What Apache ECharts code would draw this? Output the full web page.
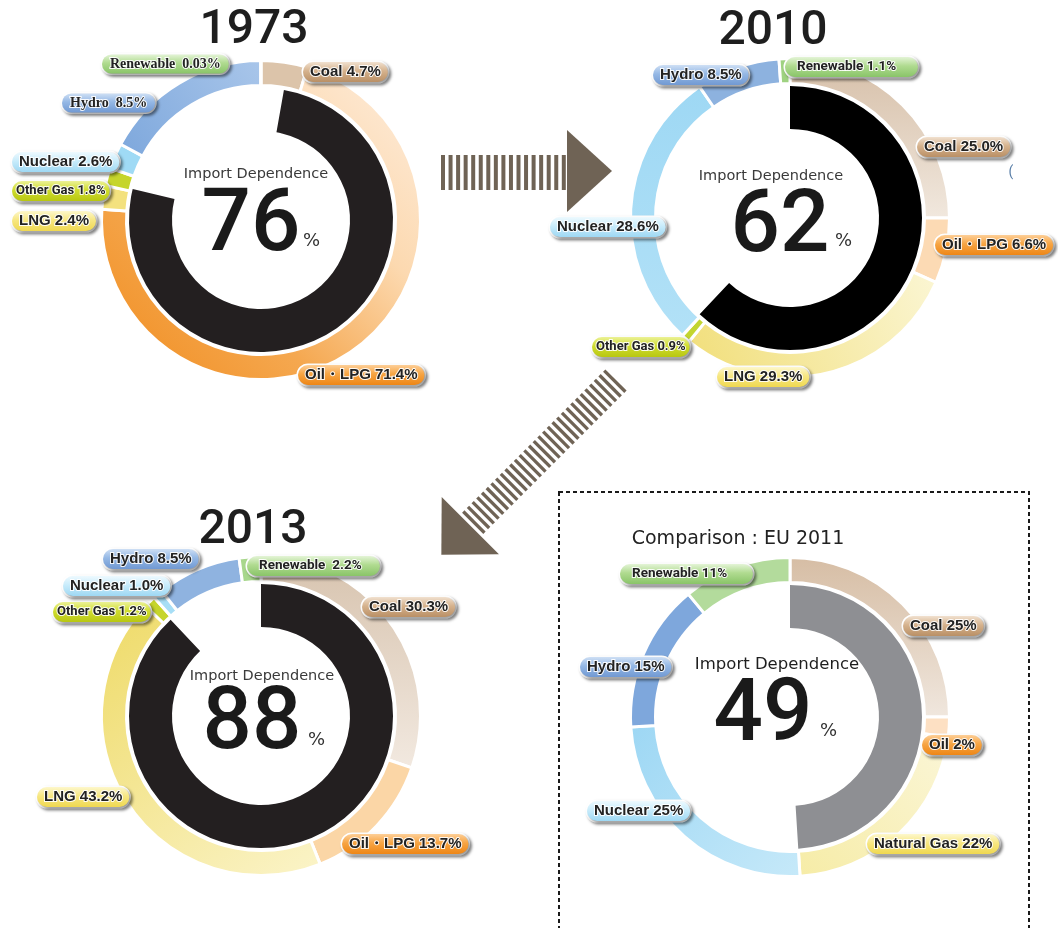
<!DOCTYPE html>
<html><head><meta charset="utf-8">
<script src="https://cdn.jsdelivr.net/npm/echarts@6/dist/echarts.min.js"></script>
<style>html,body{margin:0;padding:0;background:#fff}#c{width:1058px;height:928px}</style>
</head><body><div id="c"></div>
<script>
// ---------------- data ----------------
const categories = ['Coal', 'Oil・LPG', 'LNG', 'Other Gas', 'Nuclear', 'Hydro', 'Renewable'];
const euCategories = ['Coal', 'Oil', 'Natural Gas', 'Nuclear', 'Hydro', 'Renewable'];
const yearTitles = ['1973', '2010', '2013'];
const euTitle = 'Comparison : EU 2011';
const centerCaption = 'Import Dependence';
const importDependence = [76, 62, 88];
const euImportDependence = 49;
// printed shares (%)
const share1973 = [4.7, 71.4, 2.4, 1.8, 2.6, 8.5, 0.03];
const share2010 = [25.0, 6.6, 29.3, 0.9, 28.6, 8.5, 1.1];
const share2013 = [30.3, 13.7, 43.2, 1.2, 1.0, 8.5, 2.2];
const shareEU = [25, 2, 22, 25, 15, 11];
// arc sizes as drawn in the picture (the 1973 hydro arc is drawn about twice its printed share)
const arc1973 = [4.7, 71.4, 2.4, 1.8, 2.6, 17.1, 0.03];

// ---------------- styling ----------------
function lg(x, y, x2, y2, stops) {
  return {type: 'linear', x, y, x2, y2, colorStops: stops.map(s => ({offset: s[0], color: s[1]}))};
}
const pill = {
  coal: ['#f5e8da', '#d6b38e', '#b68b60'],
  oil: ['#fed6a6', '#f7a544', '#ec8210'],
  lng: ['#fefad8', '#f7e783', '#eed64a'],
  gas: ['#f0f5a8', '#d0dd31', '#b5c40c'],
  nuc: ['#f4fcff', '#c9ecfb', '#98d5f2'],
  hyd: ['#d8e6f7', '#95b8e5', '#6c95d0'],
  ren: ['#ecf8e2', '#b0db90', '#84c163']
};
const pillKeys = ['coal', 'oil', 'lng', 'gas', 'nuc', 'hyd', 'ren'];
const pillKeysEU = ['coal', 'oil', 'lng', 'nuc', 'hyd', 'ren'];

const ringColors1973 = [
  '#dcc4aa',
  lg(0, 1, 1, 0, [[0, '#f08b1c'], [0.35, '#f5a850'], [0.65, '#fcd9b0'], [1, '#feeedf']]),
  '#f3e17e', '#c6d52c', '#9fdaf5',
  lg(0, 1, 1, 0, [[0, '#7da7dc'], [1, '#a9c6ea']]),
  '#a5d488'
];
const ringColors2010 = [
  lg(0, 0, 0, 1, [[0, '#d6bfa8'], [1, '#f1e8de']]),
  '#fcdab4',
  lg(1, 0, 0, 1, [[0, '#fbf6d4'], [1, '#f1de78']]),
  '#c3d530',
  lg(0, 0, 0, 1, [[0, '#9ed8f4'], [1, '#b2e1f7']]),
  '#8db2df', '#9fd281'
];
const ringColors2013 = [
  lg(0, 0, 0, 1, [[0, '#d7c3ae'], [1, '#f2e9e0']]),
  '#fbd6a6',
  lg(0, 0, 1, 1, [[0, '#eeda66'], [1, '#fbf4c9']]),
  '#c6d52c', '#a7def6', '#8fb3e0', '#a8d78c'
];
const ringColorsEU = [
  lg(0, 0, 0, 1, [[0, '#d6bda4'], [1, '#f0e7de']]),
  '#fde0c3',
  lg(1, 0, 0, 1, [[0, '#fbf6d8'], [1, '#f6eca6']]),
  lg(0, 0, 1, 1, [[0, '#9dd7f4'], [1, '#c6e9f9']]),
  '#7ea7dc', '#b3db9c'
];

// label anchor (left edge, vertical middle) of each pill
const labelPos = {
  '1973': [[303, 72], [298, 375], [12, 221], [12, 191], [12, 162], [62, 103], [102, 64]],
  '2010': [[917, 147], [935, 245], [717, 377], [592, 347], [550, 227], [653, 75], [785, 67]],
  '2013': [[362, 607], [342, 844], [37, 797], [53, 612], [63, 586], [103, 559], [247, 566]],
  'EU':   [[903, 626], [922, 745], [867, 844], [587, 811], [580, 667], [620, 574]]
};
const SANS = "'Liberation Sans', Arial, sans-serif";
const SERIF = "'Liberation Serif', 'DejaVu Serif', serif";
// label variants: S = regular sans, N = narrow, W = wide narrow pill (renewable), F = serif
const variants = {
  S: {fontFamily: SANS, fontSize: 15, padding: [3, 7, 2, 7]},
  N: {fontFamily: "Roboto, sans-serif", fontSize: 13, padding: [4, 4, 3, 4]},
  W: {fontFamily: "Roboto, sans-serif", fontSize: 13.5, padding: [3, 7, 3, 12], width: 114},
  F: {fontFamily: SERIF, fontSize: 14, padding: [3, 8, 2, 8]}
};

function fmt(v, eu) {
  if (eu) return v + '%';
  return (v < 0.1 ? v.toFixed(2) : v.toFixed(1)) + '%';
}

function ring(key, center, cats, arc, shares, colors, keys, eu, kinds, gaps) {
  const pos = labelPos[key];
  return {
    type: 'pie', center, radius: [134.5, 159.5], startAngle: 90, clockwise: true,
    avoidLabelOverlap: false, silent: true, animation: false, emphasis: {disabled: true},
    itemStyle: {borderColor: '#fff', borderWidth: 3},
    labelLine: {show: false},
    labelLayout: p => ({x: pos[p.dataIndex][0], y: pos[p.dataIndex][1], align: 'left', verticalAlign: 'middle'}),
    data: cats.map((name, i) => {
      const c = pill[keys[i]];
      const v = variants[kinds[i]];
      return {
        name, value: arc[i],
        itemStyle: {color: colors[i]},
        label: Object.assign({
          show: true, position: 'outside',
          formatter: name + ((gaps && gaps[i]) ? '\u2002' : ' ') + fmt(shares[i], eu),
          fontWeight: 'bold', color: '#222',
          textBorderColor: 'rgba(255,255,255,0.9)', textBorderWidth: 2,
          backgroundColor: lg(0, 0, 0, 1, [[0, c[0]], [0.45, c[1]], [1, c[2]]]),
          borderColor: '#fff', borderWidth: 1.5, borderRadius: 11,
          shadowColor: 'rgba(0,0,0,0.4)', shadowBlur: 3, shadowOffsetX: 2, shadowOffsetY: 2
        }, v)
      };
    })
  };
}
function core(center, dep, color, startAngle) {
  return {
    type: 'pie', center, radius: [89, 132], startAngle, clockwise: true,
    silent: true, animation: false, emphasis: {disabled: true},
    label: {show: false}, labelLine: {show: false},
    data: [{value: dep, itemStyle: {color}}, {value: 100 - dep, itemStyle: {color: 'rgba(0,0,0,0)'}}]
  };
}

const C1973 = [261, 220], C2010 = [790, 218], C2013 = [261, 716], CEU = [790, 717];
const series = [
  ring('1973', C1973, categories, arc1973, share1973, ringColors1973, pillKeys, false,
       ['S', 'S', 'S', 'N', 'S', 'F', 'F'], [0, 0, 0, 0, 0, 1, 1]),
  core(C1973, importDependence[0], '#231f20', 80),
  ring('2010', C2010, categories, share2010, share2010, ringColors2010, pillKeys, false,
       ['S', 'S', 'S', 'N', 'S', 'S', 'W']),
  core(C2010, importDependence[1], '#000000', 90),
  ring('2013', C2013, categories, share2013, share2013, ringColors2013, pillKeys, false,
       ['S', 'S', 'S', 'N', 'S', 'S', 'W'], [0, 0, 0, 0, 0, 0, 1]),
  core(C2013, importDependence[2], '#231f20', 90),
  ring('EU', CEU, euCategories, shareEU, shareEU, ringColorsEU, pillKeysEU, true,
       ['S', 'S', 'S', 'S', 'S', 'W']),
  core(CEU, euImportDependence, '#8e8f93', 90)
];

// ---------------- decorations ----------------
const ARROW = '#6f6355';
const graphic = [];
// right arrow
for (let i = 0; i < 17; i++) {
  graphic.push({type: 'rect', shape: {x: 441 + i * 7.55, y: 155, width: 4, height: 35}, style: {fill: ARROW}, silent: true});
}
graphic.push({type: 'polygon', shape: {points: [[567, 130], [612, 171], [567, 212]]}, style: {fill: ARROW}, silent: true});
// diagonal arrow
(function () {
  const S = [616, 380], u = [-Math.SQRT1_2, Math.SQRT1_2], n = [Math.SQRT1_2, Math.SQRT1_2];
  const w = 15, L = 206, N = 31, per = L / N, th = 3.3;
  const P = (t, s) => [S[0] + u[0] * t + n[0] * s, S[1] + u[1] * t + n[1] * s];
  for (let i = 0; i < N; i++) {
    const t0 = i * per, t1 = t0 + th;
    graphic.push({type: 'polygon', shape: {points: [P(t0, w), P(t1, w), P(t1, -w), P(t0, -w)]}, style: {fill: ARROW}, silent: true});
  }
  graphic.push({type: 'polygon', shape: {points: [P(L, 40.5), P(L + 41, 0), P(L, -40.5)]}, style: {fill: ARROW}, silent: true});
})();
// dashed box
graphic.push({type: 'rect', shape: {x: 559, y: 492, width: 470, height: 470}, style: {fill: 'none', stroke: '#1a1a1a', lineWidth: 2, lineDash: [4, 3]}, silent: true});

// titles
const TITLEFONT = "Roboto, 'Liberation Sans', sans-serif";
const CAPFONT = "'DejaVu Sans', sans-serif";
function txt(x, y, text, size, weight, color, align, family) {
  graphic.push({type: 'text', x, y, silent: true, z: 10,
    style: {text, fontSize: size, fontWeight: weight, fill: color, align: align || 'center', verticalAlign: 'middle', fontFamily: family || TITLEFONT}});
}
txt(254, 31, yearTitles[0], 48, 500, '#1e1e1e');
txt(773, 32, yearTitles[1], 48, 500, '#1e1e1e');
txt(253, 531, yearTitles[2], 48, 500, '#1e1e1e');
txt(738, 539, euTitle, 19, 'normal', '#222', 'center', CAPFONT);
// center texts
const centers = [
  {cap: [256, 174], num: [251, 228], pct: [303, 241], v: importDependence[0], cs: 14.5, cc: '#3a3a3a'},
  {cap: [771, 176], num: [780, 229], pct: [835, 241], v: importDependence[1], cs: 14.5, cc: '#3a3a3a'},
  {cap: [262, 676], num: [252, 726], pct: [308, 740], v: importDependence[2], cs: 14.5, cc: '#3a3a3a'},
  {cap: [777, 665], num: [763, 718], pct: [820, 731], v: euImportDependence, cs: 16.5, cc: '#1e1e1e'}
];
centers.forEach(c => {
  txt(c.cap[0], c.cap[1], centerCaption, c.cs, 'normal', c.cc, 'center', CAPFONT);
  txt(c.num[0], c.num[1], String(c.v), 87, 500, '#1a1a1a');
  txt(c.pct[0], c.pct[1], '%', 18, 'normal', '#333', 'left', CAPFONT);
});
txt(1011, 172, '(', 14, 'normal', '#5a7fa8');

const chart = echarts.init(document.getElementById('c'));
chart.setOption({animation: false, backgroundColor: '#fff', series, graphic});
</script></body></html>
